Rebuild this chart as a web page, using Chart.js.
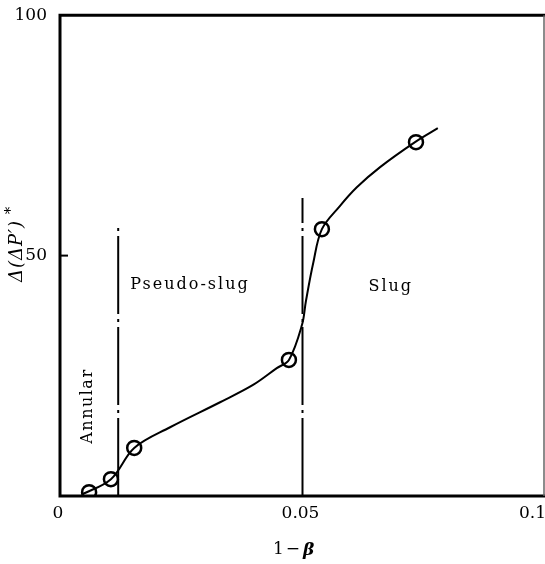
<!DOCTYPE html>
<html>
<head>
<meta charset="utf-8">
<script src="https://cdn.jsdelivr.net/npm/chart.js@4"></script>
<style>
  body { margin: 0; background: #fff; overflow: hidden; }
  #wrap { width: 545px; height: 564px; }
</style>
</head>
<body>
<div id="wrap"><canvas id="flowChart"></canvas></div>
<script>
// measured points (1 - beta, delta(delta P')*)
const pointX = [0.006, 0.0105, 0.0153, 0.0472, 0.054, 0.0734];
const pointY = [0.8, 3.5, 10, 28.3, 55.5, 73.6];

// hand drawn trend curve
const curveX = [0.0045, 0.0105, 0.0153, 0.0227, 0.033, 0.0398, 0.0447, 0.0472, 0.0499, 0.0507, 0.0522, 0.054, 0.0577, 0.0612, 0.066, 0.0732, 0.0779];
const curveY = [0.3, 3.5, 10, 14.3, 19.5, 23.1, 26.6, 28.3, 35.6, 40.5, 48.4, 55.5, 60.3, 64.2, 68.4, 73.6, 76.5];

// flow regime boundaries
const boundaryX = [0.012, 0.05];
const boundaryTop = [56.5, 62];

const xTicks = [0, 0.05, 0.1];
const xTickLabels = ["0", "0.05", "0.1"];

const regimeNames = ["Annular", "Pseudo-slug", "Slug"];
const regimeAt = [[0.0058, 18.7, true], [0.0268, 43.9, false], [0.0682, 43.5, false]];

const serif = '"DejaVu Serif", "Liberation Serif", serif';

const toXY = (xs, ys) => xs.map((x, i) => ({ x: x, y: ys[i] }));

const boundarySets = boundaryX.map((bx, i) => ({
  data: [{ x: bx, y: 0 }, { x: bx, y: boundaryTop[i] }],
  showLine: true,
  borderColor: "#000",
  borderWidth: 2,
  borderDash: [78, 5, 3, 5],
  pointRadius: 0,
}));

const decorations = {
  id: "decorations",
  afterDraw(chart) {
    const ctx = chart.ctx;
    const a = chart.chartArea;
    const xs = chart.scales.x;
    const ys = chart.scales.y;
    ctx.save();
    ctx.strokeStyle = "#000";
    ctx.fillStyle = "#000";

    // frame
    ctx.lineWidth = 3;
    ctx.beginPath();
    ctx.moveTo(a.right, a.top);
    ctx.lineTo(a.left, a.top);
    ctx.lineTo(a.left, a.bottom);
    ctx.lineTo(a.right, a.bottom);
    ctx.stroke();
    ctx.lineWidth = 1.5;
    ctx.strokeStyle = "#666";
    ctx.beginPath();
    ctx.moveTo(a.right - 1, a.top);
    ctx.lineTo(a.right - 1, a.bottom);
    ctx.stroke();

    // inward tick at 50
    ctx.strokeStyle = "#000";
    ctx.lineWidth = 2;
    ctx.beginPath();
    ctx.moveTo(a.left, ys.getPixelForValue(50));
    ctx.lineTo(a.left + 8, ys.getPixelForValue(50));
    ctx.stroke();

    // x tick labels
    ctx.font = "17px " + serif;
    ctx.textBaseline = "middle";
    xTicks.forEach((v, i) => {
      const px = xs.getPixelForValue(v);
      const last = i === xTicks.length - 1;
      ctx.textAlign = last ? "right" : "center";
      ctx.fillText(xTickLabels[i], last ? px + 1 : px - 2, a.bottom + 18);
    });

    // x title: 1 - beta
    ctx.textAlign = "left";
    let tx = 273;
    ctx.font = "17px " + serif;
    ctx.fillText("1", tx, 550);
    tx += ctx.measureText("1").width + 2;
    ctx.fillText("\u2212", tx, 550);
    tx += ctx.measureText("\u2212").width + 3;
    ctx.font = "italic bold 17px " + serif;
    ctx.fillText("\u03B2", tx, 551);

    // y title
    ctx.save();
    ctx.translate(17, 246);
    ctx.rotate(-Math.PI / 2);
    ctx.textAlign = "center";
    ctx.font = "italic 18px " + serif;
    ctx.letterSpacing = "1px";
    ctx.fillText("\u0394(\u0394P\u2032)", -5, 0);
    ctx.font = "italic 15px " + serif;
    ctx.fillText("*", 36, -6);
    ctx.restore();

    // regime labels
    ctx.font = "16px " + serif;
    ctx.textAlign = "center";
    regimeNames.forEach((name, i) => {
      const [rx, ry, vertical] = regimeAt[i];
      const px = xs.getPixelForValue(rx);
      const py = ys.getPixelForValue(ry);
      ctx.save();
      ctx.letterSpacing = vertical ? "1.5px" : "2px";
      ctx.translate(px, py);
      if (vertical) ctx.rotate(-Math.PI / 2);
      ctx.fillText(name, 0, 0);
      ctx.restore();
    });
    ctx.restore();
  },
};

const flowChart = new Chart(document.querySelector("#flowChart"), {
  type: "scatter",
  data: {
    datasets: [
      ...boundarySets,
      {
        data: toXY(curveX, curveY),
        showLine: true,
        borderColor: "#000",
        borderWidth: 2,
        tension: 0.35,
        pointRadius: 0,
      },
      {
        data: toXY(pointX, pointY),
        showLine: false,
        pointRadius: 7,
        pointBorderWidth: 2.5,
        pointBackgroundColor: "#fff",
        pointBorderColor: "#000",
      },
    ],
  },
  options: {
    responsive: true,
    maintainAspectRatio: false,
    animation: false,
    layout: { autoPadding: false, padding: { top: 15, right: 0, bottom: 0, left: 0 } },
    plugins: {
      legend: { display: false },
      tooltip: { enabled: false },
    },
    scales: {
      x: {
        type: "linear",
        min: 0,
        max: 0.1,
        grid: { display: false },
        border: { display: false },
        ticks: { display: false },
        afterFit: (s) => { s.height = 68; },
      },
      y: {
        min: 0,
        max: 100,
        grid: { display: false },
        border: { display: false },
        ticks: {
          stepSize: 50,
          color: "#000",
          padding: 5,
          font: { size: 17, family: serif },
          callback: (v) => (v === 0 ? "" : v),
        },
        afterFit: (s) => { s.width = 60; },
      },
    },
  },
  plugins: [decorations],
});
</script>
</body>
</html>
